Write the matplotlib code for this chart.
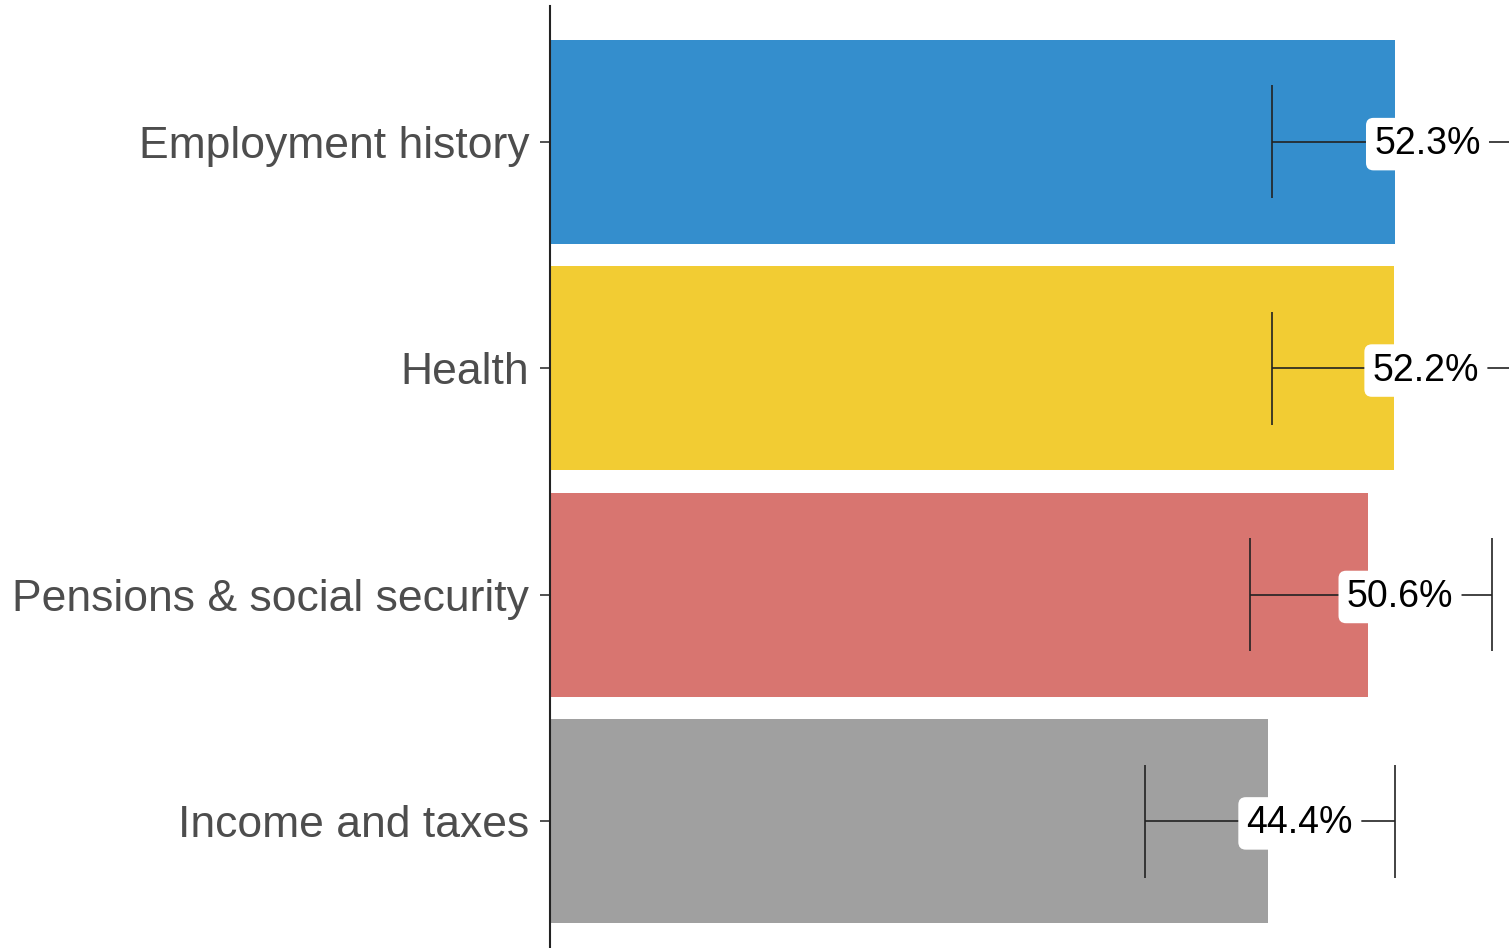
import matplotlib
matplotlib.use("Agg")
import matplotlib.pyplot as plt
import matplotlib.transforms as mtransforms

categories = ["Employment history", "Health", "Pensions & social security", "Income and taxes"]
values = [52.3, 52.2, 50.6, 44.4]
lower = [44.7, 44.7, 43.3, 36.8]
upper = [59.9, 59.7, 58.3, 52.3]
labels = ["52.3%", "52.2%", "50.6%", "44.4%"]
colors = ["#348ECD", "#F2CC33", "#D87570", "#A0A0A0"]

plt.rcParams['font.family'] = ['Liberation Sans', 'DejaVu Sans']

W, H, DPI = 1509, 948, 100
fig = plt.figure(figsize=(W / DPI, H / DPI), dpi=DPI)
left_px, top_px, bottom_px = 550, 6, 957
ax = fig.add_axes([left_px / W, 1 - bottom_px / H, 1 - left_px / W, (bottom_px - top_px) / H])

ypos = [4, 3, 2, 1]
ax.barh(ypos, values, height=0.9, color=colors, zorder=1)
ax.hlines(ypos, lower, upper, color="#222222", linewidth=1.2, zorder=2)
ax.vlines(lower, [y - 0.25 for y in ypos], [y + 0.25 for y in ypos], color="#222222", linewidth=1.2, zorder=2)
ax.vlines(upper, [y - 0.25 for y in ypos], [y + 0.25 for y in ypos], color="#222222", linewidth=1.2, zorder=2)

for y, v, lab in zip(ypos, values, labels):
    ax.text(v + 2.0, y - 0.01, lab, ha="center", va="center", fontsize=27, color="black", zorder=3,
            bbox=dict(boxstyle="round,pad=0.22,rounding_size=0.2", facecolor="white", edgecolor="none"))

ax.set_xlim(0, (W - left_px) / 16.16)
ax.set_ylim(0.4, 4.6)
ax.set_yticks(ypos)
ax.set_yticklabels(categories, fontsize=32, color="#4D4D4D")
shift = mtransforms.ScaledTranslation(0, -3 / 72, fig.dpi_scale_trans)
for t in ax.get_yticklabels():
    t.set_transform(t.get_transform() + shift)
ax.set_xticks([])
for s in ["top", "right", "bottom"]:
    ax.spines[s].set_visible(False)
ax.spines["left"].set_linewidth(1.5)
ax.spines["left"].set_color("#222222")
ax.tick_params(axis="y", length=7, width=1.2, color="#333333", pad=8)

fig.savefig("out.png", dpi=DPI)
